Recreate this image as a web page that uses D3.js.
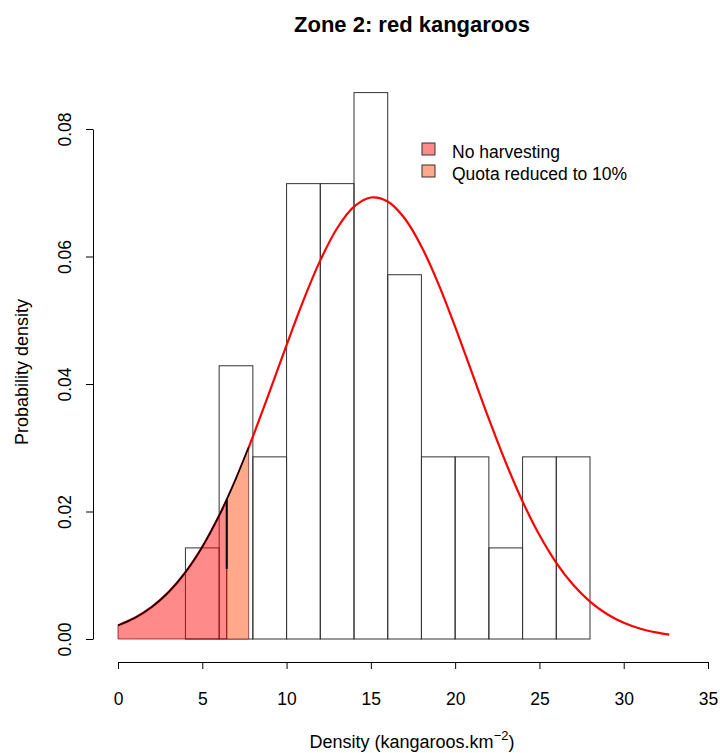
<!DOCTYPE html>
<html>
<head>
<meta charset="utf-8">
<script src="https://cdn.jsdelivr.net/npm/d3@7"></script>
<style>
  html, body { margin: 0; padding: 0; background: #fff; }
  text { font-family: "Liberation Sans", Arial, Helvetica, sans-serif; fill: #000; }
</style>
</head>
<body>
<svg id="chart" width="720" height="753"></svg>
<script>
// ---------- data ----------
const binStarts  = [4, 6, 8, 10, 12, 14, 16, 18, 20, 22, 24, 26];
const binWidth   = 2;
const binDensity = [0.01429, 0.04286, 0.02857, 0.07143, 0.07143, 0.08571, 0.05714, 0.02857, 0.02857, 0.01429, 0.02857, 0.02857];

// fitted density curve
const curveX = [0, 1, 2, 3, 4, 5, 6, 6.45, 7, 7.75, 8, 9, 10, 11, 12, 13, 14, 15, 16, 17, 18, 19, 20, 21, 22, 23, 24, 25, 26, 27, 28, 29, 30, 31, 32, 32.7];
const curveY = [0.00213, 0.00332, 0.00502, 0.00735, 0.01047, 0.01445, 0.01936, 0.02186, 0.02516, 0.03003, 0.03173, 0.03883, 0.04611, 0.05313, 0.05939, 0.06443, 0.06781, 0.06926, 0.06863, 0.06600, 0.06158, 0.05575, 0.04897, 0.04175, 0.03453, 0.02771, 0.02157, 0.01630, 0.01195, 0.00850, 0.00587, 0.00393, 0.00255, 0.00161, 0.00099, 0.00069];

const noHarvestLimit = 6.45;   // upper edge of "No harvesting" region
const quotaLimit     = 7.75;   // upper edge of "Quota reduced to 10%" region
const markLow        = 0.011;  // lower end of black marker at noHarvestLimit

const xTicks = [0, 5, 10, 15, 20, 25, 30, 35];
const yTicks = [0, 0.02, 0.04, 0.06, 0.08];
const yTickLabels = ["0.00", "0.02", "0.04", "0.06", "0.08"];

const legendLabels = ["No harvesting", "Quota reduced to 10%"];
const legendColors = ["rgba(255,0,0,0.46)", "#FFA98A"];

// ---------- drawing ----------
const FS = 17.5;
const svg = d3.select("#chart");
const x = d3.scaleLinear().domain([0, 35]).range([118, 708]);
const y = d3.scaleLinear().domain([0, 0.08]).range([639, 129]);

const pts = curveX.map((v, i) => [v, curveY[i]]);

// histogram
svg.append("g").selectAll("rect")
  .data(binStarts.map((s, i) => ({ s, d: binDensity[i] })))
  .join("rect")
  .attr("x", d => x(d.s))
  .attr("y", d => y(d.d))
  .attr("width", d => x(d.s + binWidth) - x(d.s))
  .attr("height", d => y(0) - y(d.d))
  .attr("fill", "none")
  .attr("stroke", "#333")
  .attr("stroke-width", 1);

// red fitted curve
const line = d3.line().x(d => x(d[0])).y(d => y(d[1])).curve(d3.curveCatmullRom);
svg.append("path").datum(pts)
  .attr("d", line)
  .attr("fill", "none")
  .attr("stroke", "#ff0000")
  .attr("stroke-width", 2.2);

// shaded regions
function regionPts(lo, hi) {
  return pts.filter(p => p[0] >= lo - 1e-9 && p[0] <= hi + 1e-9);
}
const area = d3.area().x(d => x(d[0])).y0(y(0)).y1(d => y(d[1])).curve(d3.curveCatmullRom);

const redPts = regionPts(0, noHarvestLimit);
const salPts = regionPts(noHarvestLimit, quotaLimit);

svg.append("path").datum(salPts)
  .attr("d", area)
  .attr("fill", legendColors[1])
  .attr("stroke", "rgba(110,30,20,0.7)")
  .attr("stroke-width", 1);

svg.append("path").datum(redPts)
  .attr("d", area)
  .attr("fill", legendColors[0])
  .attr("stroke", "rgba(110,0,0,0.7)")
  .attr("stroke-width", 1);

// black outline along curve top of shaded area
svg.append("path").datum(regionPts(0, quotaLimit))
  .attr("d", line)
  .attr("fill", "none")
  .attr("stroke", "#000")
  .attr("stroke-width", 1.5);

// black marker at boundary
const bY = curveY[curveX.indexOf(noHarvestLimit)];
svg.append("line")
  .attr("x1", x(noHarvestLimit)).attr("x2", x(noHarvestLimit))
  .attr("y1", y(bY)).attr("y2", y(markLow))
  .attr("stroke", "#000").attr("stroke-width", 2);

// x axis
const xAxis = d3.axisBottom(x).tickValues(xTicks).tickSize(7).tickSizeOuter(0).tickFormat(d3.format("d"));
const gx = svg.append("g").attr("transform", "translate(0,662)").call(xAxis);
gx.select(".domain").attr("stroke", "#000");
gx.selectAll(".tick line").attr("stroke", "#000");
gx.selectAll(".tick text").attr("font-size", FS).attr("font-family", "Liberation Sans, Arial, sans-serif")
  .attr("y", 43).attr("dy", 0).attr("fill", "#000");

// y axis
const yAxis = d3.axisLeft(y).tickValues(yTicks).tickSize(7).tickSizeOuter(0).tickFormat((d, i) => yTickLabels[i]);
const gy = svg.append("g").attr("transform", "translate(93,0)").call(yAxis);
gy.select(".domain").attr("stroke", "#000");
gy.selectAll(".tick line").attr("stroke", "#000");
gy.selectAll(".tick text")
  .attr("font-size", FS).attr("font-family", "Liberation Sans, Arial, sans-serif").attr("fill", "#000")
  .attr("x", null).attr("dy", 0).attr("text-anchor", "middle")
  .attr("transform", "translate(-22,0) rotate(-90)");

// title
svg.append("text").attr("x", 412).attr("y", 32)
  .attr("text-anchor", "middle").attr("font-size", 22).attr("font-weight", "bold")
  .text("Zone 2: red kangaroos");

// x label
const xl = svg.append("text").attr("x", 412).attr("y", 748).attr("text-anchor", "middle").attr("font-size", 18);
xl.append("tspan").text("Density (kangaroos.km");
xl.append("tspan").attr("dy", -8).attr("font-size", 13).text("\u22122");
xl.append("tspan").attr("dy", 8).text(")");

// y label
svg.append("text").attr("transform", "translate(28,372) rotate(-90)")
  .attr("text-anchor", "middle").attr("font-size", 18)
  .text("Probability density");

// legend
const lg = svg.append("g");
legendLabels.forEach((lab, i) => {
  const yy = 143 + i * 22;
  lg.append("rect").attr("x", 422).attr("y", yy).attr("width", 13).attr("height", 12)
    .attr("fill", legendColors[i]).attr("stroke", "#333").attr("stroke-width", 1);
  lg.append("text").attr("x", 452).attr("y", yy + 14.5).attr("font-size", 17.5).text(lab);
});
</script>
</body>
</html>
